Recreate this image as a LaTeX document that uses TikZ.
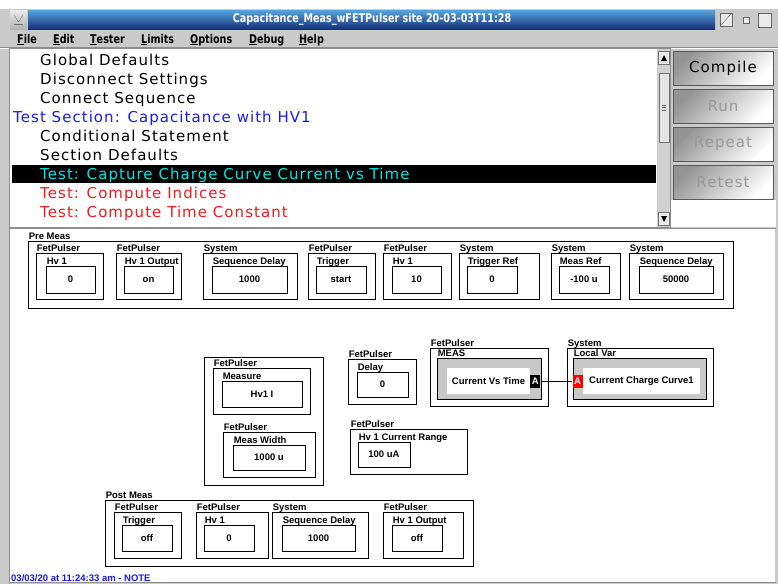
\documentclass[tikz,border=0pt]{standalone}
\usepackage{fontspec}
\setmainfont{Liberation Sans}
\newfontfamily\listfont[LetterSpace=7]{DejaVu Sans}
\newfontfamily\barfont[FakeStretch=0.8]{DejaVu Sans}
\usetikzlibrary{positioning}
\definecolor{winGray}{HTML}{CACACA}
\definecolor{frameGray}{HTML}{8E8E8E}
\definecolor{titleTop}{HTML}{55A4DE}
\definecolor{titleBottom}{HTML}{16307C}
\definecolor{selCyan}{HTML}{00E6E6}
\definecolor{sectBlue}{HTML}{1A1AF5}
\definecolor{testRed}{HTML}{F41A1A}
\definecolor{noteBlue}{HTML}{1A1AE6}
\definecolor{pinGray}{HTML}{C8C8C8}
\definecolor{dimText}{HTML}{9A9A9A}
\newcommand\cvfont{\bfseries\fontsize{9.5}{11}\selectfont}
\newcommand\lsfont{\listfont\fontsize{15}{18}\selectfont}
\newcommand\mbfont{\barfont\bfseries\fontsize{12}{14}\selectfont}

\begin{document}
\begin{tikzpicture}[x=1pt,y=-1pt,
  listitem/.style={anchor=base west,inner sep=0pt,font=\lsfont},
  menuitem/.style={anchor=base west,inner sep=0pt,font=\mbfont},
  button/.style={draw=black!65,shade,top color=black!42,bottom color=white,shading angle=45,minimum width=100,minimum height=34,inner sep=0pt,font=\lsfont},
  group/.style={draw,line width=0.8pt,fill=white,minimum height=46,inner sep=0pt},
  valbox/.style={draw,line width=0.8pt,fill=white,minimum height=27,inner sep=0pt,font=\cvfont},
  catlbl/.style={anchor=base west,inner sep=0pt,xshift=1pt,yshift=1.2pt,font=\cvfont},
  pinbox/.style={draw,line width=0.8pt,fill=pinGray,inner sep=0pt},
  pinface/.style={fill=white,inner sep=0pt,font=\cvfont},
  port/.style={inner sep=0pt,minimum width=10,minimum height=13,text=white,font=\cvfont},
  wire/.style={line width=0.8pt}]
  \useasboundingbox (0,0) rectangle (778,584);
  \fill[winGray] (0,0) rectangle (778,584);
  \fill[white] (0,0) rectangle (778,9);

  % title bar
  \shade[top color=titleTop,bottom color=titleBottom] (28,10) rectangle (715,29);
  \node[font=\mbfont,text=white] (title) at (372,19.5) {Capacitance\_Meas\_wFETPulser site 20-03-03T11:28};
  \shade[top color=black!8,bottom color=black!30] (10,10) rectangle (27,29);
  \draw[black!55] (14,15) -- (18.5,22) -- (23,15);
  \draw[black!55] (14,24.5) -- (23,24.5);
  \draw[black!60,fill=black!8] (720,13) rectangle (732,26);
  \draw[black!60] (721,25) -- (731,14);
  \draw[black!60,fill=black!8] (743,17) rectangle (749,23);
  \draw[black!60,fill=black!8] (758,13) rectangle (771,27);

  % menu
  \node[menuitem] (mFile) at (17,43) {\underline{F}ile};
  \node[menuitem] (mEdit) at (53,43) {\underline{E}dit};
  \node[menuitem] (mTester) at (90,43) {\underline{T}ester};
  \node[menuitem] (mLimits) at (141,43) {\underline{L}imits};
  \node[menuitem] (mOptions) at (190,43) {\underline{O}ptions};
  \node[menuitem] (mDebug) at (249,43) {\underline{D}ebug};
  \node[menuitem] (mHelp) at (299,43) {\underline{H}elp};
  \draw[black!45] (0,47) -- (778,47);
  \draw[white] (0,48) -- (778,48);

  % test list
  \fill[white] (10,49) rectangle (657,227);
  \draw[frameGray] (9.5,48.5) rectangle (670.5,227.5);
  \fill[black] (12,165) rectangle (656,183);
  \node[listitem] (iGlobal) at (40,65.5) {Global Defaults};
  \node[listitem] (iDisc) at (40,84.5) {Disconnect Settings};
  \node[listitem] (iConn) at (40,103.5) {Connect Sequence};
  \node[listitem,text=sectBlue] (iSect) at (13,122.5) {Test Section: Capacitance with HV1};
  \node[listitem] (iCond) at (40,141.5) {Conditional Statement};
  \node[listitem] (iSectDef) at (40,160.5) {Section Defaults};
  \node[listitem,text=selCyan] (iCapture) at (40,179.5) {Test: Capture Charge Curve Current vs Time};
  \node[listitem,text=testRed] (iIndices) at (40,198.5) {Test: Compute Indices};
  \node[listitem,text=testRed] (iTau) at (40,217.5) {Test: Compute Time Constant};

  % scroll bar
  \fill[black!18] (658,49) rectangle (670,227);
  \draw[black!55,fill=black!8] (658.5,51.5) rectangle (669.5,64.5);
  \fill (661,61) -- (667,61) -- (664,55) -- cycle;
  \draw[black!55,fill=black!10] (659,73) rectangle (669,142);
  \draw[black!60] (662,105) -- (666,105) (662,107.5) -- (666,107.5) (662,110) -- (666,110);
  \draw[black!55,fill=black!8] (658.5,212.5) rectangle (669.5,225.5);
  \fill (661,216) -- (667,216) -- (664,222) -- cycle;

  % buttons
  \node[button] (compile) at (723,68) {Compile};
  \node[button,text=dimText] (run) at (723,106) {Run};
  \node[button,text=dimText] (repeat) at (723,144) {Repeat};
  \node[button,text=dimText] (retest) at (723,182) {Retest};
  \fill[white] (671,200) rectangle (776,227);

  % canvas
  \fill[white] (10,229) rectangle (775,582);
  \draw[frameGray] (9.5,584) -- (9.5,228.5) -- (775.5,228.5);
  \draw[frameGray] (9.5,582.5) -- (775.5,582.5);

  % pre measurement block
  \node[group,minimum width=705,minimum height=67,label={[catlbl]north west:Pre Meas}] (pre) at (380.5,274.5) {};
  \node[group,minimum width=67,label={[catlbl]north west:FetPulser}] (preHv) at (69.5,276) {};
  \node[valbox,minimum width=49,label={[catlbl]north west:Hv 1}] (preHvVal) at (70.5,279.5) {0};
  \node[group,minimum width=65,label={[catlbl]north west:FetPulser}] (preOut) at (148.5,276) {};
  \node[valbox,minimum width=49,label={[catlbl]north west:Hv 1 Output}] (preOutVal) at (148.5,279.5) {on};
  \node[group,minimum width=94,label={[catlbl]north west:System}] (preSeq) at (250,276) {};
  \node[valbox,minimum width=75,label={[catlbl]north west:Sequence Delay}] (preSeqVal) at (249.5,279.5) {1000};
  \node[group,minimum width=67,label={[catlbl]north west:FetPulser}] (preTrig) at (341.5,276) {};
  \node[valbox,minimum width=50,label={[catlbl]north west:Trigger}] (preTrigVal) at (341,279.5) {start};
  \node[group,minimum width=68,label={[catlbl]north west:FetPulser}] (preHvB) at (417,276) {};
  \node[valbox,minimum width=49,label={[catlbl]north west:Hv 1}] (preHvBVal) at (416.5,279.5) {10};
  \node[group,minimum width=80,label={[catlbl]north west:System}] (preTref) at (499,276) {};
  \node[valbox,minimum width=50,label={[catlbl]north west:Trigger Ref}] (preTrefVal) at (492,279.5) {0};
  \node[group,minimum width=69,label={[catlbl]north west:System}] (preMref) at (585.5,276) {};
  \node[valbox,minimum width=50,label={[catlbl]north west:Meas Ref}] (preMrefVal) at (584,279.5) {-100 u};
  \node[group,minimum width=94,label={[catlbl]north west:System}] (preSeqB) at (676,276) {};
  \node[valbox,minimum width=74,label={[catlbl]north west:Sequence Delay}] (preSeqBVal) at (676,279.5) {50000};

  % measurement
  \node[group,minimum width=119,minimum height=128] (meas) at (263.5,421) {};
  \node[group,minimum width=97,label={[catlbl]north west:FetPulser}] (measI) at (261.5,391) {};
  \node[valbox,minimum width=80,minimum height=26,label={[catlbl]north west:Measure}] (measIVal) at (262,394) {Hv1 I};
  \node[group,minimum width=92,minimum height=45,label={[catlbl]north west:FetPulser}] (measW) at (269,454.5) {};
  \node[valbox,minimum width=72,minimum height=25,label={[catlbl]north west:Meas Width}] (measWVal) at (269,457.5) {1000 u};
  \node[group,minimum width=68,minimum height=45,label={[catlbl]north west:FetPulser}] (delay) at (382,381.5) {};
  \node[valbox,minimum width=51,minimum height=25,label={[catlbl]north west:Delay}] (delayVal) at (382.5,384.5) {0};
  \node[group,minimum width=117,minimum height=45,label={[catlbl]north west:FetPulser}] (range) at (408.5,451.5) {};
  \node[valbox,minimum width=52,minimum height=25,label={[catlbl]north west:Hv 1 Current Range}] (rangeVal) at (384,454.5) {100 uA};

  % captured waveform and where it goes
  \node[group,minimum width=118,minimum height=58,label={[catlbl]north west:FetPulser}] (wave) at (489,377) {};
  \node[pinbox,minimum width=104,minimum height=41,label={[catlbl]north west:MEAS}] (wavePin) at (489,378.5) {};
  \node[pinface,minimum width=83,minimum height=26] (waveFace) at (488.5,381) {Current Vs Time};
  \node[port,fill=black,anchor=west] (waveOut) at (waveFace.east) {A};
  \node[group,minimum width=146,minimum height=58,label={[catlbl]north west:System}] (curve) at (640,377) {};
  \node[pinbox,minimum width=133,minimum height=41,label={[catlbl]north west:Local Var}] (curvePin) at (639.5,378.5) {};
  \node[pinface,minimum width=117,minimum height=26] (curveFace) at (641.5,381) {Current Charge Curve1};
  \node[port,fill=red,anchor=east] (curveIn) at (curveFace.west) {A};
  \draw[wire] (waveOut) -- (curveIn);

  % post measurement block
  \node[group,minimum width=368,minimum height=66,label={[catlbl]north west:Post Meas}] (post) at (289,533) {};
  \node[group,minimum width=67,label={[catlbl]north west:FetPulser}] (postTrig) at (147.5,535) {};
  \node[valbox,minimum width=50,minimum height=26,label={[catlbl]north west:Trigger}] (postTrigVal) at (147,538) {off};
  \node[group,minimum width=72,label={[catlbl]north west:FetPulser}] (postHv) at (232,535) {};
  \node[valbox,minimum width=50,minimum height=26,label={[catlbl]north west:Hv 1}] (postHvVal) at (229,538) {0};
  \node[group,minimum width=96,label={[catlbl]north west:System}] (postSeq) at (320,535) {};
  \node[valbox,minimum width=73,minimum height=26,label={[catlbl]north west:Sequence Delay}] (postSeqVal) at (318.5,538) {1000};
  \node[group,minimum width=80,label={[catlbl]north west:FetPulser}] (postOut) at (423,535) {};
  \node[valbox,minimum width=50,minimum height=26,label={[catlbl]north west:Hv 1 Output}] (postOutVal) at (417,538) {off};

  \node[anchor=base west,inner sep=0pt,font=\cvfont,text=noteBlue] (note) at (11,581.5) {03/03/20 at 11:24:33 am - NOTE};
\end{tikzpicture}
\end{document}
